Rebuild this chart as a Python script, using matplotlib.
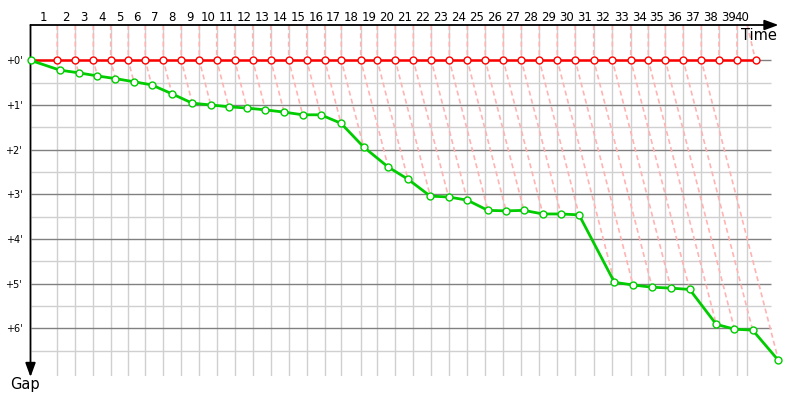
import matplotlib
matplotlib.use("Agg")
import matplotlib.pyplot as plt
from matplotlib.transforms import blended_transform_factory

# ---- data ----
laps = list(range(1, 41))
leader_times = [2.33, 3.90, 5.47, 6.98, 8.51, 9.99, 11.56, 13.12, 14.69, 16.21,
                17.77, 19.34, 20.91, 22.47, 24.04, 25.61, 27.05, 28.74, 30.18, 31.75,
                33.32, 34.88, 36.45, 38.02, 39.58, 41.15, 42.72, 44.28, 45.85, 47.41,
                49.02, 50.64, 52.24, 53.77, 55.25, 56.81, 58.38, 59.95, 61.51, 63.10]
lap_lines = [2.33, 3.90, 5.47, 6.98, 8.51, 9.99, 11.56, 13.12, 14.69, 16.21,
             17.77, 19.34, 20.91, 22.47, 24.04, 25.61, 27.05, 28.74, 30.18, 31.75,
             33.32, 34.88, 36.45, 38.02, 39.58, 41.15, 42.72, 44.28, 45.85, 47.41,
             49.02, 50.64, 52.24, 53.77, 55.25, 56.81, 58.38, 59.95, 61.51, 62.38]
gaps = [0.22, 0.28, 0.35, 0.41, 0.48, 0.55, 0.75, 0.96, 1.00, 1.04,
        1.07, 1.11, 1.16, 1.22, 1.22, 1.41, 1.94, 2.39, 2.66, 3.04,
        3.06, 3.13, 3.36, 3.37, 3.36, 3.44, 3.44, 3.46, 4.97, 5.03,
        5.08, 5.10, 5.13, 5.91, 6.02, 6.04, 6.72]
gap_ticks = [0, 1, 2, 3, 4, 5, 6]
gap_tick_labels = ["+0'", "+1'", "+2'", "+3'", "+4'", "+5'", "+6'"]

# chaser crosses the line 'gap' after the leader
chaser_times = [leader_times[i] + g for i, g in enumerate(gaps)]

W, H = 800, 400
fig = plt.figure(figsize=(8, 4), dpi=100)
ax_left, ax_right, ax_top, ax_bottom = 30.5, 780, 25, 376
ax = fig.add_axes([ax_left / W, 1 - ax_bottom / H, (ax_right - ax_left) / W, (ax_bottom - ax_top) / H])
xmax = (ax_right - ax_left) / 11.49
ymin_top = (ax_top - 60.3) / 44.67
ymax_bot = (ax_bottom - 60.3) / 44.67
ax.set_xlim(0, xmax)
ax.set_ylim(ymax_bot, ymin_top)
for s in ax.spines.values():
    s.set_visible(False)
ax.set_xticks([])
ax.set_yticks(gap_ticks)
ax.set_yticklabels(gap_tick_labels, fontsize=7)
ax.tick_params(axis='y', length=0, pad=6)

grid_end = (770.7 - ax_left) / 11.49
# grid
for t in lap_lines:
    ax.axvline(t, color='#d0d0d0', lw=1, zorder=0)
for g in gap_ticks:
    ax.hlines(g + 0.5, 0, grid_end, color='#d0d0d0', lw=1, zorder=0)
    ax.hlines(g, 0, grid_end, color='#808080', lw=1, zorder=0.5)

# projection lines
pink = '#ffb3b3'
for i, t in enumerate(leader_times):
    xs = [lap_lines[i], t]
    ys = [ymin_top, 0]
    if i < len(gaps):
        xs.append(chaser_times[i])
        ys.append(gaps[i])
    ax.plot(xs, ys, color=pink, lw=1.2, dashes=(3, 2), zorder=1)

# leader line
ax.plot([0] + leader_times, [0] * (len(leader_times) + 1), color='#ff0000', lw=1.8, zorder=2)
ax.plot(leader_times, [0] * len(leader_times), ls='none', marker='o', ms=5,
        mfc='white', mec='#ff0000', mew=1, zorder=3, clip_on=False)
# chaser line
ax.plot([0] + chaser_times, [0] + gaps, color='#00cc00', lw=2, marker='o', ms=5,
        mfc='white', mec='#00cc00', mew=1, zorder=4, clip_on=False)

# lap labels centred in each lap
trans = blended_transform_factory(ax.transData, fig.transFigure)
prev = 0
for lap, t in zip(laps, lap_lines):
    ax.text((prev + t) / 2, 1 - 17.5 / H, str(lap), transform=trans, ha='center', va='center',
            fontsize=8.5, clip_on=False)
    prev = t

# axes arrows
arrow = dict(arrowstyle='-|>,head_length=0.6,head_width=0.22', color='black', lw=1.3,
             mutation_scale=14, shrinkA=0, shrinkB=0)
ax.annotate('', xy=(778.5 / W, 1 - 25 / H), xytext=(30.5 / W, 1 - 25 / H),
            xycoords='figure fraction', textcoords='figure fraction', arrowprops=arrow)
ax.annotate('', xy=(30.5 / W, 1 - 377 / H), xytext=(30.5 / W, 1 - 25 / H),
            xycoords='figure fraction', textcoords='figure fraction', arrowprops=arrow)
fig.text(777 / W, 1 - 36 / H, 'Time', ha='right', va='center', fontsize=10.5)
fig.text(10 / W, 1 - 385 / H, 'Gap', ha='left', va='center', fontsize=10.5)

fig.savefig('out.png', dpi=100)
